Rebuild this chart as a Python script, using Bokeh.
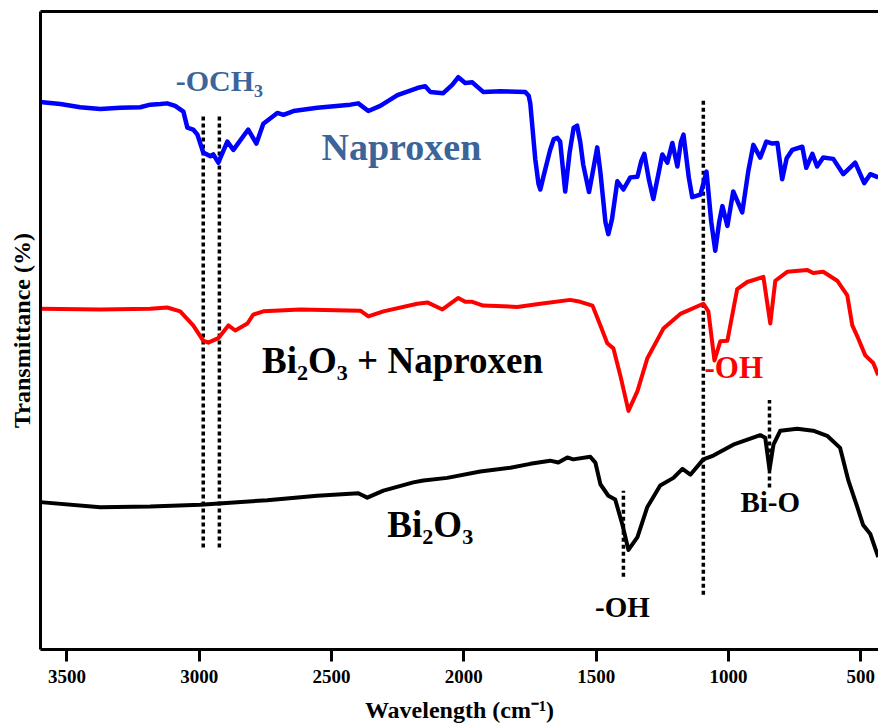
from bokeh.plotting import figure
from bokeh.models import Range1d, LinearAxis, FixedTicker
from bokeh.core.properties import value
from bokeh.embed import file_html
from bokeh.resources import INLINE

# ---- data (wavenumber cm^-1, transmittance a.u.) ----
nap_wn = [3601, 3525, 3450, 3374, 3299, 3223, 3185, 3147, 3121, 3091, 3060, 3045, 3023, 3007,
          2985, 2958, 2947, 2928, 2894, 2871, 2815, 2784, 2758, 2705, 2682, 2644, 2554, 2429,
          2399, 2361, 2316, 2251, 2176, 2146, 2127, 2078, 2044, 2021, 1995, 1968, 1927, 1862,
          1768, 1755, 1749, 1730, 1718, 1711, 1700, 1674, 1660, 1647, 1636, 1617, 1600, 1585,
          1572, 1560, 1549, 1527, 1510, 1496, 1484, 1465, 1454, 1440, 1420, 1397, 1371, 1344,
          1330, 1318, 1300, 1284, 1265, 1250, 1231, 1212, 1193, 1180, 1170, 1150, 1137, 1106,
          1083, 1065, 1050, 1035, 1023, 1004, 982, 948, 925, 906, 880, 857, 834, 815, 797,
          780, 759, 721, 706, 683, 665, 642, 604, 566, 521, 487, 464, 434]
nap_t = [85.8, 85.5, 85.0, 84.7, 84.9, 85.0, 85.4, 85.5, 85.6, 85.2, 84.3, 81.8, 81.5, 80.7,
         77.9, 77.3, 77.6, 76.3, 79.6, 78.3, 81.5, 79.3, 82.4, 84.1, 83.8, 84.4, 84.9, 85.4,
         85.6, 84.4, 85.2, 86.9, 88.0, 88.3, 87.4, 87.2, 88.5, 89.7, 88.8, 88.9, 87.4, 87.5,
         87.4, 86.8, 85.6, 76.8, 73.0, 72.1, 74.0, 78.3, 80.0, 80.2, 79.6, 71.8, 78.0, 81.8,
         82.1, 79.5, 76.0, 71.7, 75.5, 78.7, 74.8, 67.0, 65.1, 67.5, 73.4, 72.1, 74.0, 74.1,
         76.5, 77.7, 73.5, 70.6, 74.5, 77.6, 76.3, 79.4, 75.7, 79.5, 80.7, 74.0, 70.9, 71.3,
         74.9, 67.0, 62.5, 67.0, 69.5, 66.4, 71.8, 68.5, 75.0, 79.1, 77.1, 79.6, 79.3, 79.4,
         73.7, 77.0, 78.3, 78.8, 75.5, 77.7, 75.7, 77.1, 76.9, 74.5, 76.3, 73.1, 74.5, 74.0]

mix_wn = [3601, 3374, 3185, 3121, 3072, 3023, 2985, 2966, 2928, 2890, 2864, 2818, 2796, 2758,
          2618, 2391, 2361, 2304, 2176, 2138, 2081, 2021, 1995, 1968, 1927, 1798, 1711, 1598,
          1560, 1514, 1484, 1458, 1435, 1409, 1378, 1344, 1307, 1246, 1182, 1095, 1076, 1053,
          1031, 1004, 967, 929, 868, 842, 823, 778, 702, 680, 642, 589, 551, 532, 510, 483,
          453, 434]
mix_t = [53.4, 53.3, 53.4, 53.6, 53.0, 50.8, 48.4, 48.1, 48.8, 50.8, 50.0, 51.1, 52.5, 53.0,
         53.3, 53.1, 52.2, 53.0, 54.2, 54.4, 53.3, 55.1, 54.5, 54.5, 53.9, 53.7, 54.2, 54.8,
         54.5, 53.9, 50.8, 48.0, 47.2, 43.0, 37.4, 40.5, 45.6, 50.3, 52.6, 54.2, 53.0, 45.3,
         48.3, 48.4, 56.5, 57.6, 58.4, 51.1, 57.8, 59.2, 59.5, 59.0, 59.2, 57.8, 55.5, 50.8,
         48.8, 46.1, 44.9, 43.0]

bi_wn = [3601, 3374, 3185, 2996, 2743, 2554, 2399, 2365, 2304, 2191, 2153, 2063, 1938, 1824,
         1749, 1674, 1643, 1609, 1587, 1522, 1503, 1484, 1454, 1428, 1401, 1378, 1344, 1307,
         1258, 1208, 1174, 1144, 1095, 1057, 982, 880, 861, 845, 830, 804, 740, 680, 627, 578,
         547, 513, 491, 464, 434]
bi_t = [23.1, 22.3, 22.4, 22.7, 23.4, 24.1, 24.5, 23.8, 24.9, 26.2, 26.5, 26.9, 27.9, 28.5,
        29.1, 29.6, 29.3, 30.1, 29.8, 30.2, 29.3, 25.9, 24.1, 23.5, 19.6, 15.6, 17.6, 22.3,
        25.7, 26.9, 28.3, 27.4, 29.8, 30.4, 32.1, 33.6, 33.2, 28.2, 32.1, 34.3, 34.6, 34.3,
        33.5, 31.6, 26.5, 22.3, 19.5, 18.1, 14.5]

# marker (dotted) lines
mark_wn = [2985, 2924, 1095, 1397, 845]
mark_top = [83.8, 83.8, 86.4, 24.9, 39.1]
mark_bottom = [16.0, 16.0, 8.6, 11.4, 25.4]

tick_values = [3500, 3000, 2500, 2000, 1500, 1000, 500]

p = figure(width=878, height=725, output_backend="svg", toolbar_location=None,
           x_range=Range1d(3600, 433), y_range=Range1d(0, 100),
           min_border_left=40, min_border_right=0, min_border_top=11, min_border_bottom=72,
           x_axis_label="Wavelength (cm\u207b\u00b9)", y_axis_label="Transmittance (%)")
p.outline_line_color = None
p.grid.visible = False
p.background_fill_color = "white"
p.border_fill_color = "white"

xa = p.xaxis[0]
xa.ticker = FixedTicker(ticks=tick_values)
xa.axis_line_width = 3
xa.major_tick_line_width = 3
xa.major_tick_out = 12
xa.major_tick_in = 0
xa.minor_tick_line_color = None
xa.major_label_standoff = 8
xa.major_label_text_font = "Liberation Serif"
xa.major_label_text_font_style = "bold"
xa.major_label_text_font_size = "19px"
xa.major_label_text_color = "black"
xa.axis_label_text_font = "Liberation Serif"
xa.axis_label_text_font_style = "bold"
xa.axis_label_text_font_size = "24px"
xa.axis_label_text_color = "black"
xa.axis_label_standoff = 11

ya = p.yaxis[0]
ya.axis_line_width = 3
ya.major_tick_line_color = None
ya.minor_tick_line_color = None
ya.major_label_text_font_size = "0px"
ya.major_label_text_color = None
ya.axis_label_text_font = "Liberation Serif"
ya.axis_label_text_font_style = "bold"
ya.axis_label_text_font_size = "24px"
ya.axis_label_text_color = "black"
ya.axis_label_standoff = 0

top = LinearAxis(axis_line_width=3, major_tick_line_color=None, minor_tick_line_color=None,
                 major_label_text_font_size="0px", major_label_text_color=None)
p.add_layout(top, "above")

p.segment(x0=mark_wn, y0=mark_bottom, x1=mark_wn, y1=mark_top, line_color="black",
          line_width=3.5, line_dash="4 3")

p.line(nap_wn, nap_t, line_color="#0000FF", line_width=4.5, line_join="round")
p.line(mix_wn, mix_t, line_color="#FF0000", line_width=4, line_join="round")
p.line(bi_wn, bi_t, line_color="black", line_width=4, line_join="round")

serif = value("Liberation Serif")
lab_blue = "#3B6499"
p.text(x=[2924], y=[89.2], text=["-OCH\u2083"], text_font=serif, text_font_style="bold",
       text_font_size="30px", text_color=lab_blue, text_align="center", text_baseline="middle")
p.text(x=[2236], y=[78.7], text=["Naproxen"], text_font=serif, text_font_style="bold",
       text_font_size="38px", text_color=lab_blue, text_align="center", text_baseline="middle")
p.text(x=[2232], y=[45.3], text=["Bi\u2082O\u2083 + Naproxen"], text_font=serif,
       text_font_style="bold", text_font_size="37px", text_color="black",
       text_align="center", text_baseline="middle")
p.text(x=[980], y=[44.2], text=["-OH"], text_font=serif, text_font_style="bold",
       text_font_size="31px", text_color="#FF0000", text_align="center", text_baseline="middle")
p.text(x=[2127], y=[19.6], text=["Bi\u2082O\u2083"], text_font=serif, text_font_style="bold",
       text_font_size="37px", text_color="black", text_align="center", text_baseline="middle")
p.text(x=[1401], y=[6.7], text=["-OH"], text_font=serif, text_font_style="bold",
       text_font_size="29px", text_color="black", text_align="center", text_baseline="middle")
p.text(x=[842], y=[23.1], text=["Bi-O"], text_font=serif, text_font_style="bold",
       text_font_size="29px", text_color="black", text_align="center", text_baseline="middle")

open("out.html", "w").write(file_html(p, INLINE))
